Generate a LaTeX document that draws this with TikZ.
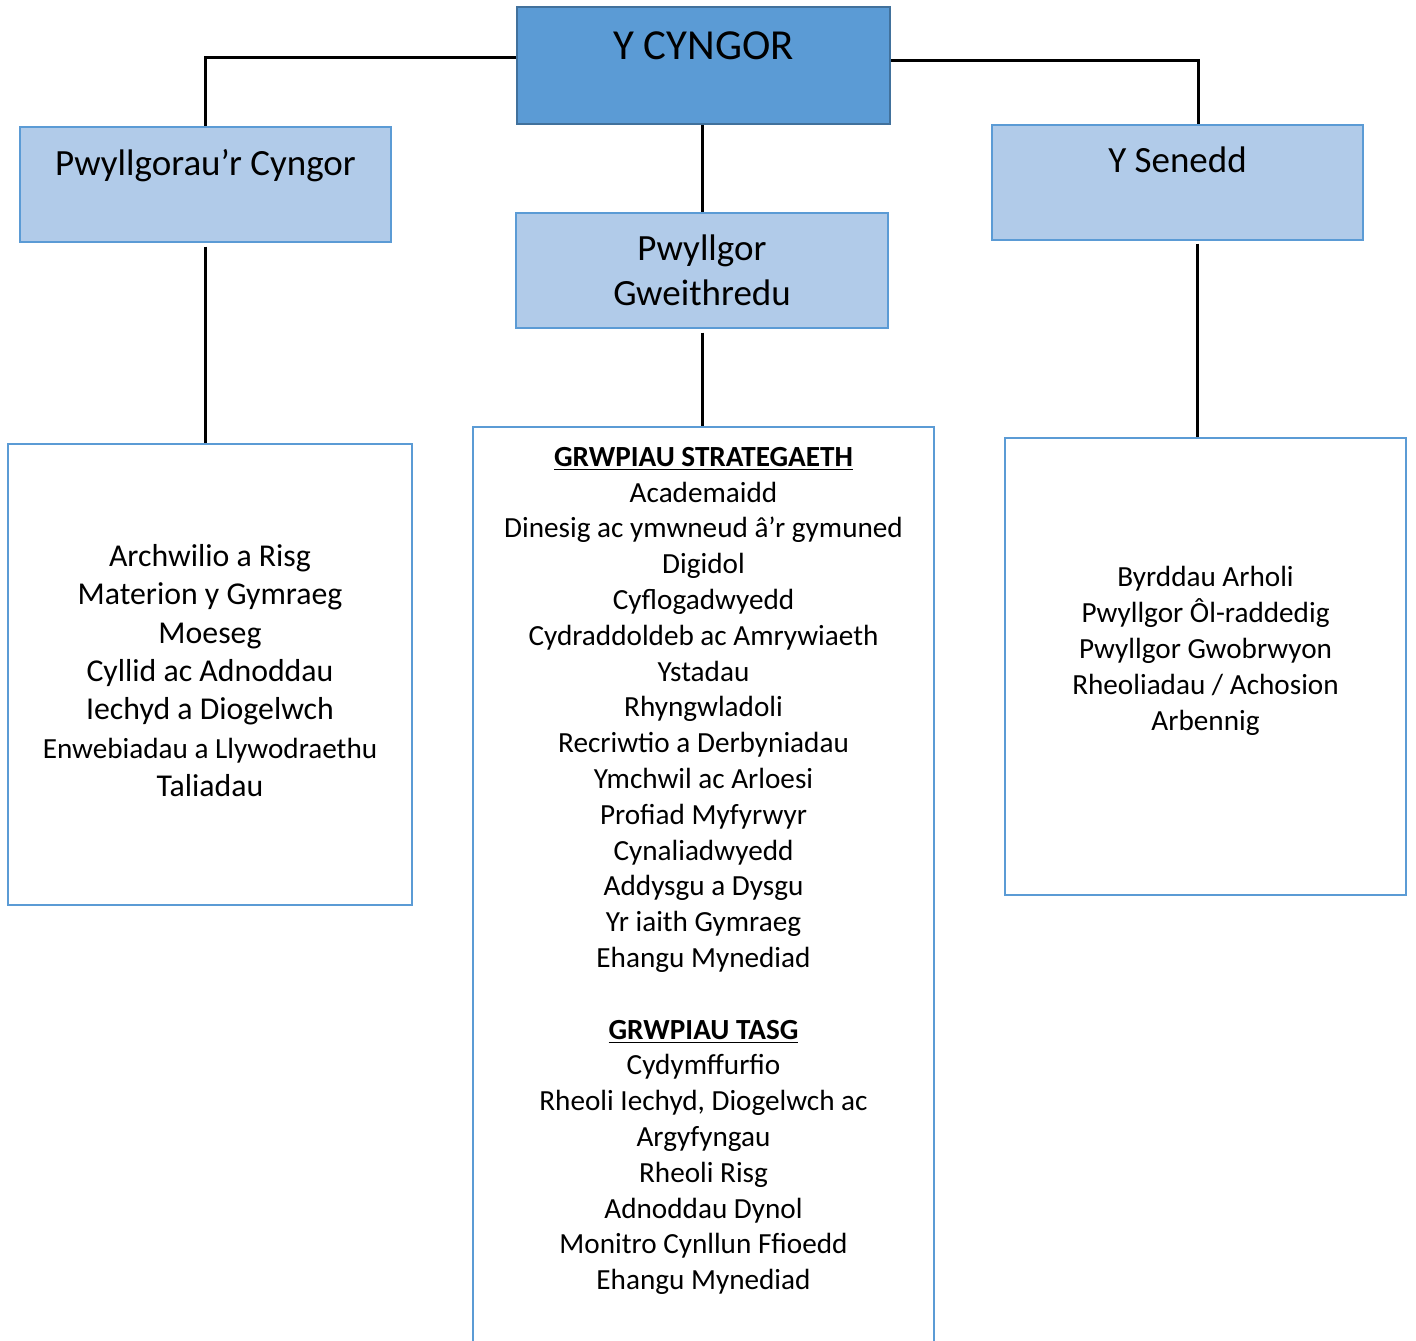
\documentclass[tikz,border=0pt]{standalone}
\usepackage{fontspec}
\setmainfont{Carlito}
\definecolor{cgTop}{HTML}{5B9BD5}
\definecolor{cgTopEdge}{HTML}{41719C}
\definecolor{cgHead}{HTML}{B1CBE9}
\definecolor{cgEdge}{HTML}{5B9BD5}
\newcommand{\grouphead}[1]{\underline{\textbf{#1}}}

\begin{document}
\begin{tikzpicture}[x=0.5pt, y=-0.5pt,
  topbox/.style={fill=cgTop, draw=cgTopEdge, line width=1pt,
    minimum width=186.5pt, minimum height=58.5pt, align=center,
    font=\fontsize{21.4}{19.5}\selectfont},
  headbox/.style={fill=cgHead, draw=cgEdge, line width=0.6pt,
    minimum width=185.5pt, minimum height=57.5pt, align=center,
    font=\fontsize{18.5}{22.5}\selectfont},
  listbox/.style={fill=white, draw=cgEdge, line width=1.2pt,
    align=center, inner sep=0pt},
  link/.style={line width=1.5pt, black}
]
  \useasboundingbox (0,0) rectangle (1416,1340);

  \node[topbox] (cyngor) at (703.5,65.5) {Y CYNGOR\\~};
  \node[headbox] (pwyllgorau) at (205.5,184.5) {Pwyllgorau’r Cyngor\\~};
  \node[headbox] (senedd) at (1177.5,182.5) {Y Senedd\\~};
  \node[headbox, minimum width=186pt] (gweithredu) at (702,270.5) {Pwyllgor\\Gweithredu};

  \node[listbox, minimum width=202pt, minimum height=230.5pt,
    font=\fontsize{15.9}{19.2}\selectfont] (pwyllgorlist) at (210,674.5) {
    Archwilio a Risg\\
    Materion y Gymraeg\\
    Moeseg\\
    Cyllid ac Adnoddau\\
    Iechyd a Diogelwch\\
    {\fontsize{14.6}{19.2}\selectfont Enwebiadau a Llywodraethu}\\
    Taliadau\\[-15.2pt]
    ~
  };
  \node[listbox, anchor=north, minimum width=230.5pt, inner ysep=10pt,
    font=\fontsize{14.6}{17.9}\selectfont] (grwpiau) at (703.5,426) {
    \grouphead{GRWPIAU STRATEGAETH}\\
    Academaidd\\
    Dinesig ac ymwneud â’r gymuned\\
    Digidol\\
    Cyflogadwyedd\\
    Cydraddoldeb ac Amrywiaeth\\
    Ystadau\\
    Rhyngwladoli\\
    Recriwtio a Derbyniadau\\
    Ymchwil ac Arloesi\\
    Profiad Myfyrwyr\\
    Cynaliadwyedd\\
    Addysgu a Dysgu\\
    Yr iaith Gymraeg\\
    Ehangu Mynediad\\[17.9pt]
    \grouphead{GRWPIAU TASG}\\
    Cydymffurfio\\
    Rheoli Iechyd, Diogelwch ac\\
    Argyfyngau\\
    Rheoli Risg\\
    Adnoddau Dynol\\
    Monitro Cynllun Ffioedd\\
    Ehangu Mynediad\\[20pt]
    ~
  };
  \node[listbox, minimum width=200.5pt, minimum height=228.5pt,
    font=\fontsize{14.6}{18}\selectfont] (seneddlist) at (1205.5,666.5) {
    Byrddau Arholi\\
    Pwyllgor Ôl-raddedig\\
    Pwyllgor Gwobrwyon\\
    Rheoliadau / Achosion\\
    Arbennig\\
    ~
  };

  \draw[link] ([yshift=4.25pt]cyngor.west) -| (pwyllgorau.north);
  \draw[link] ([yshift=2.75pt]cyngor.east) -| ([xshift=10.25pt]senedd.north);
  \draw[link] (gweithredu.north |- cyngor.south) -- (gweithredu.north);
  \draw[link, shorten <=2pt] (pwyllgorau.south) -- (pwyllgorau.south |- pwyllgorlist.north);
  \draw[link, shorten <=2pt] (gweithredu.south) -- (gweithredu.south |- grwpiau.north);
  \draw[link, shorten <=1.5pt] ([xshift=10pt]senedd.south) -- ([xshift=10pt]senedd.south |- seneddlist.north);
\end{tikzpicture}
\end{document}
